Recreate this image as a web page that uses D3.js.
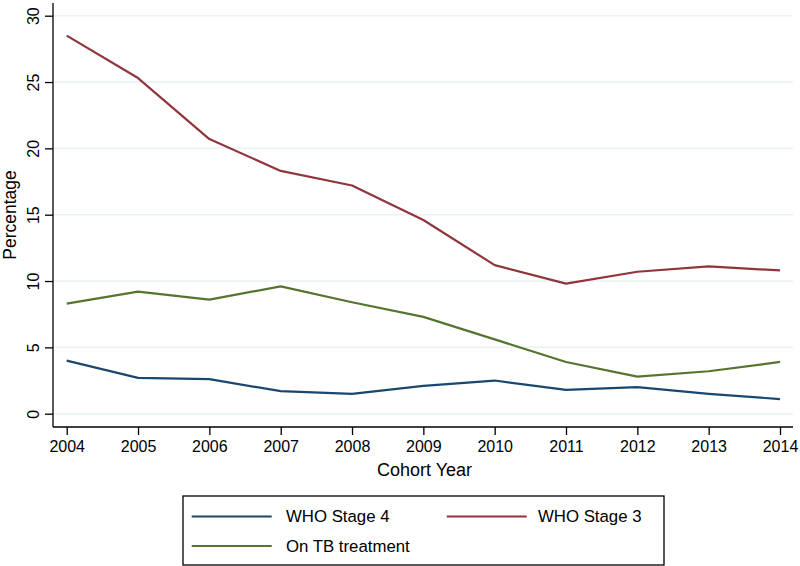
<!DOCTYPE html>
<html>
<head>
<meta charset="utf-8">
<script src="https://cdn.jsdelivr.net/npm/d3@7"></script>
<style>
html,body{margin:0;padding:0;background:#fff;}
svg{display:block;font-family:"Liberation Sans",Arial,Helvetica,sans-serif;}
</style>
</head>
<body>
<svg id="chart" width="800" height="566"></svg>
<script>
const years = [2004,2005,2006,2007,2008,2009,2010,2011,2012,2013,2014];
const stage4 = [4.0,2.7,2.6,1.7,1.5,2.1,2.5,1.8,2.0,1.5,1.1];
const stage3 = [28.5,25.3,20.7,18.3,17.2,14.6,11.2,9.8,10.7,11.1,10.8];
const tbTreatment = [8.3,9.2,8.6,9.6,8.4,7.3,5.6,3.9,2.8,3.2,3.9];
const yTicks = [0,5,10,15,20,25,30];
const seriesNames = ["WHO Stage 4","WHO Stage 3","On TB treatment"];
const seriesColors = ["#1a476f","#90353b","#55752f"];

(function(){
const svg = d3.select("#chart");
const pLeft = 53, pRight = 793, pTop = 3, pBottom = 427;

const x = d3.scaleLinear().domain([2004,2014]).range([66.7,780]);
const y = d3.scaleLinear().domain([0,30]).range([413.7,15.7]);

// gridlines
svg.append("g").selectAll("line").data(yTicks).join("line")
  .attr("x1", pLeft).attr("x2", pRight)
  .attr("y1", d=>y(d)).attr("y2", d=>y(d))
  .attr("stroke","#eaf2f3").attr("stroke-width",1.5);

// y axis
const yAxis = svg.append("g").attr("transform",`translate(${pLeft},0)`)
  .call(d3.axisLeft(y).tickValues(yTicks).tickSize(8).tickPadding(0).tickFormat(d3.format("d")));
yAxis.select(".domain").attr("d",`M0,${pTop}V${pBottom}`).attr("stroke","#000").attr("stroke-width",1.3);
yAxis.selectAll(".tick line").attr("stroke","#000").attr("stroke-width",1.3);
yAxis.selectAll(".tick text")
  .attr("x",0).attr("dy",null).attr("y",0)
  .attr("transform","translate(-14.5,0) rotate(-90)")
  .attr("text-anchor","middle")
  .style("font-size","16px").attr("fill","#000")
  .attr("font-family","Liberation Sans, Arial, sans-serif");

// x axis
const xAxis = svg.append("g").attr("transform",`translate(0,${pBottom})`)
  .call(d3.axisBottom(x).tickValues(years).tickSize(8).tickPadding(6).tickFormat(d3.format("d")));
xAxis.select(".domain").attr("d",`M${pLeft},0H${pRight}`).attr("stroke","#000").attr("stroke-width",1.3);
xAxis.selectAll(".tick line").attr("stroke","#000").attr("stroke-width",1.3);
xAxis.selectAll(".tick text").style("font-size","16px").attr("fill","#000")
  .attr("font-family","Liberation Sans, Arial, sans-serif");

// titles
svg.append("text").attr("x",424.5).attr("y",476).attr("text-anchor","middle")
  .style("font-size","18px").text("Cohort Year");
svg.append("text").attr("transform","translate(16,215) rotate(-90)").attr("text-anchor","middle")
  .style("font-size","17.5px").text("Percentage");

// lines
const series = [stage4, stage3, tbTreatment];
const line = d3.line().x((d,i)=>x(years[i])).y(d=>y(d));
svg.append("g").selectAll("path").data(series).join("path")
  .attr("d", d=>line(d)).attr("fill","none")
  .attr("stroke",(d,i)=>seriesColors[i]).attr("stroke-width",2.2)
  .attr("stroke-linejoin","round");

// legend
const lg = svg.append("g");
lg.append("rect").attr("x",183).attr("y",496).attr("width",481).attr("height",69)
  .attr("fill","#fff").attr("stroke","#000").attr("stroke-width",1.3);
const legPos = [{lx:191.7,tx:286,ly:516.5,ty:522},{lx:446.7,tx:538,ly:516.5,ty:522},{lx:191.7,tx:286,ly:546,ty:551.7}];
seriesNames.forEach((n,i)=>{
  const p = legPos[i];
  lg.append("line").attr("x1",p.lx).attr("x2",p.lx+80).attr("y1",p.ly).attr("y2",p.ly)
    .attr("stroke",seriesColors[i]).attr("stroke-width",2.2);
  lg.append("text").attr("x",p.tx).attr("y",p.ty).style("font-size","16.8px").text(n);
});
})();
</script>
</body>
</html>
